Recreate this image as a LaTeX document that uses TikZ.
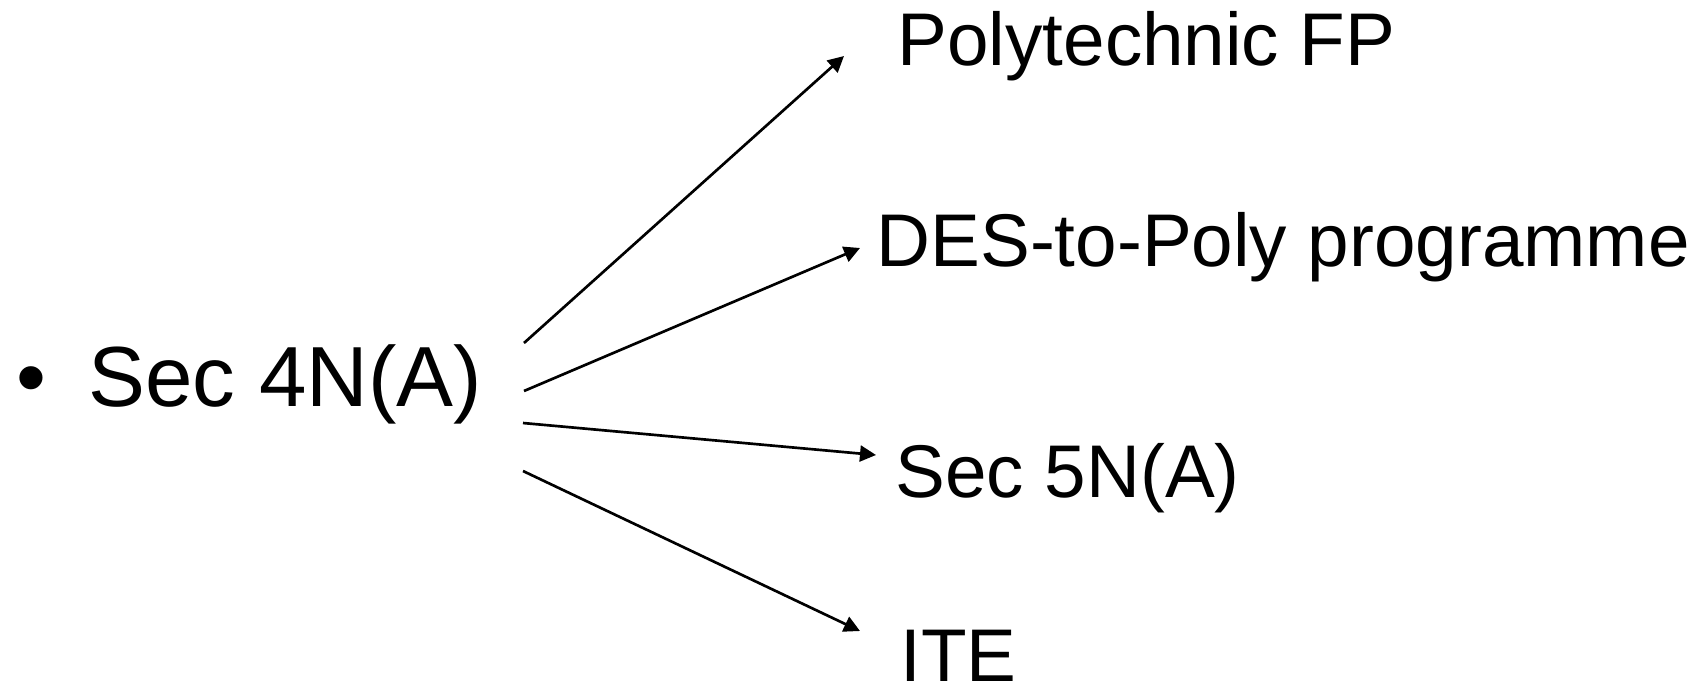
\documentclass[tikz,border=0pt]{standalone}
\usepackage{fontspec}
\setmainfont{Liberation Sans}
\usetikzlibrary{arrows.meta, positioning}

\begin{document}
\begin{tikzpicture}[x=0.375pt, y=-0.375pt,
        srctext/.style={inner sep=0pt, anchor=base west, font=\fontsize{32}{38}\selectfont},
        dsttext/.style={inner sep=0pt, anchor=base west, font=\fontsize{28}{34}\selectfont},
        path/.style={line width=1pt, -{Triangle[length=6pt, width=6pt]}}]
        \useasboundingbox (0,0) rectangle (1708,686);
        % Left item
        \node[srctext, anchor=base] (dot) at (31,406) {•};
        \node[srctext] (sec4) at (88,406) {Sec 4N(A)};
        % Where it leads
        \node[dsttext] (poly) at (897,65) {Polytechnic FP};
        \node[dsttext] (des) at (876,266) {DES-to-Poly programme};
        \node[dsttext] (sec5) at (895,497) {Sec 5N(A)};
        \node[dsttext] (ite) at (900,681) {ITE};
        % Arrow ends
        \coordinate (a1) at (524,343);
        \coordinate (a2) at (524,391);
        \coordinate (a3) at (523,423);
        \coordinate (a4) at (523,471);
        \coordinate (b1) at (844,56);
        \coordinate (b2) at (860,248);
        \coordinate (b3) at (876,455);
        \coordinate (b4) at (860,631);
        % Arrows
        \draw[path] (a1) -- (b1);
        \draw[path] (a2) -- (b2);
        \draw[path] (a3) -- (b3);
        \draw[path] (a4) -- (b4);
    \end{tikzpicture}
\end{document}
